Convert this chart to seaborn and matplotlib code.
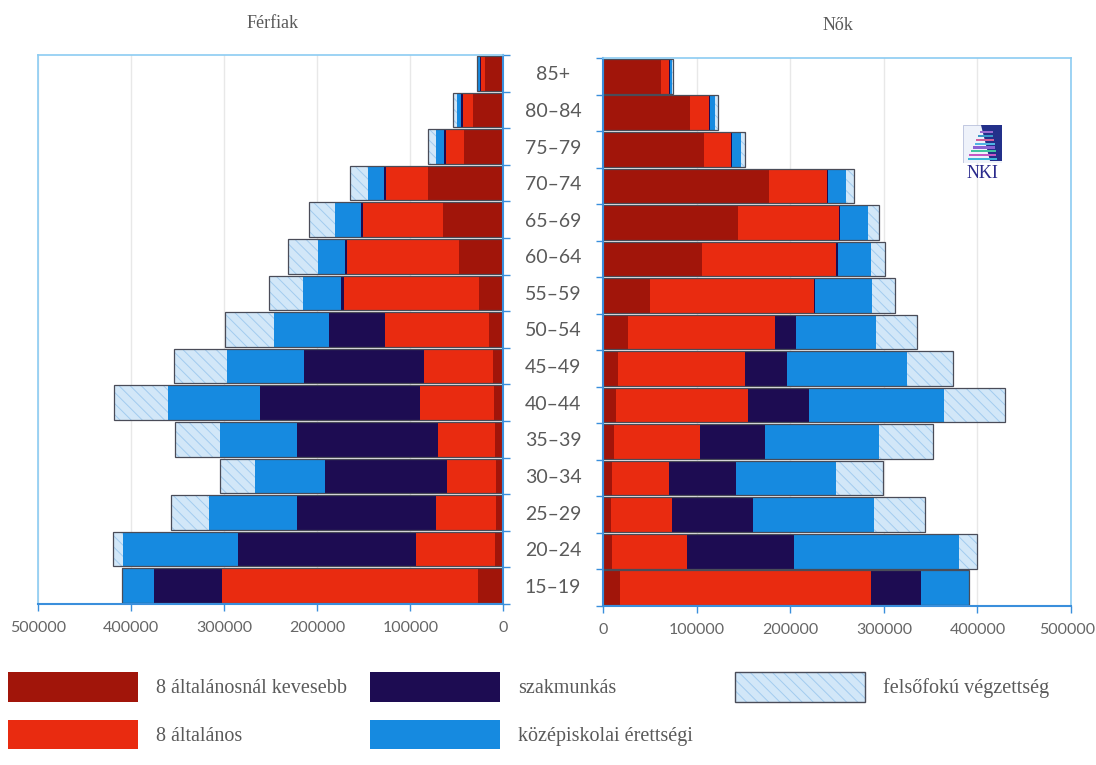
import numpy as np
import matplotlib
matplotlib.use("Agg")
import matplotlib.pyplot as plt
import matplotlib.transforms as mtransforms
import seaborn as sns
from matplotlib.patches import Patch, Polygon, Rectangle
from matplotlib.legend_handler import HandlerTuple

# ---------------- data ----------------
ages = ['85+', '80–84', '75–79', '70–74', '65–69', '60–64', '55–59', '50–54',
        '45–49', '40–44', '35–39', '30–34', '25–29', '20–24', '15–19']

categories = ['8 általánosnál kevesebb', '8 általános', 'szakmunkás',
              'középiskolai érettségi', 'felsőfokú végzettség']

men_lt8 = [20000, 33000, 42000, 81000, 64500, 48000, 26000, 16000, 11500, 10500, 9500, 8000, 8000, 9500, 27500]
men_alt8 = [4000, 11000, 20000, 45500, 86500, 120000, 145000, 111000, 74000, 79000, 61000, 52500, 64500, 84000, 274500]
men_szak = [1500, 1500, 1500, 2000, 2000, 2000, 3500, 60000, 129000, 172500, 151500, 131500, 149500, 191500, 73500]
men_eret = [1500, 4000, 9000, 17500, 28000, 29500, 41000, 60000, 82500, 98500, 83000, 75000, 94000, 124000, 34500]
men_felso = [1000, 4500, 9000, 19000, 27500, 32000, 36500, 52000, 57000, 57500, 47500, 37000, 41000, 10500, 0]

wom_lt8 = [62000, 93000, 108000, 177000, 144000, 105500, 50000, 26000, 15500, 13500, 11500, 9500, 8000, 9000, 18000]
wom_alt8 = [8000, 20500, 28500, 62000, 107500, 143000, 175000, 158000, 135500, 141000, 92000, 61000, 65500, 81000, 268500]
wom_szak = [1000, 1000, 1000, 1500, 2000, 2000, 1500, 21500, 45500, 65500, 69500, 71000, 87000, 113500, 53500]
wom_eret = [2500, 4500, 10000, 18500, 30000, 35500, 61000, 86500, 128000, 144000, 122000, 107500, 128500, 176500, 50500]
wom_felso = [1000, 3500, 3500, 8500, 11000, 15000, 24000, 43000, 49500, 65000, 57500, 49500, 54500, 19000, 0]

x_ticks = [0, 100000, 200000, 300000, 400000, 500000]

# ---------------- style ----------------
COLS = ['#a1150a', '#e92b10', '#1d0c52', '#168ae0', '#d2e7f8']
HATCH_C = '#a2cbef'
OUTLINE = '#4a4c58'
BLUE = '#3a8fdc'
LIGHT = '#8cccf2'
GRID = '#e8e8e8'
TXT = '#5a5a5a'
BAR_W = 0.95
HATCH = '\\\\\\'

plt.rcParams['hatch.linewidth'] = 0.7

W, H = 1096, 765
fig = plt.figure(figsize=(W / 100, H / 100), dpi=100)


def ax_rect(x0, x1, ytop, ybot):
    return [x0 / W, 1 - ybot / H, (x1 - x0) / W, (ybot - ytop) / H]


ax_l = fig.add_axes(ax_rect(38, 503.5, 55, 604))
ax_r = fig.add_axes(ax_rect(603.3, 1071, 58, 606))


def draw_panel(ax, layers):
    cum = np.cumsum(np.array(layers, dtype=float), axis=0)
    # total bar (hatched, top category)
    sns.barplot(x=cum[4], y=ages, orient='h', color=COLS[4], saturation=1,
                width=BAR_W, hatch=HATCH, edgecolor=HATCH_C, linewidth=0, ax=ax)
    for k in (3, 2, 1, 0):
        sns.barplot(x=cum[k], y=ages, orient='h', color=COLS[k], saturation=1,
                    width=BAR_W, linewidth=0, ax=ax)
    # outline of the whole bar
    sns.barplot(x=cum[4], y=ages, orient='h', fill=False, color=OUTLINE,
                width=BAR_W, linewidth=0.9, ax=ax)


draw_panel(ax_l, [men_lt8, men_alt8, men_szak, men_eret, men_felso])
draw_panel(ax_r, [wom_lt8, wom_alt8, wom_szak, wom_eret, wom_felso])

for ax, side in ((ax_l, 'left'), (ax_r, 'right')):
    if side == 'left':
        ax.set_xlim(500000, 0)
    else:
        ax.set_xlim(0, 500000)
    ax.set_ylim(len(ages) - 0.5, -0.5)
    ax.set_xticks(x_ticks)
    ax.set_xticklabels([str(t) for t in x_ticks], fontfamily='Lato',
                       fontsize=11.5, color='#666666')
    ax.tick_params(axis='x', direction='out', length=5, width=1, color=BLUE, pad=7)
    ax.grid(axis='x', color=GRID, lw=1)
    ax.grid(axis='y', visible=False)
    ax.set_axisbelow(True)
    ax.set_xlabel('')
    ax.set_ylabel('')
    ax.set_facecolor('white')
    ax.set_yticks(np.arange(-0.5, len(ages), 1), minor=True)

# keep the right-most tick label inside the picture
last = ax_r.get_xticklabels()[-1]
last.set_transform(last.get_transform() +
                   mtransforms.ScaledTranslation(-4 / 100, 0, fig.dpi_scale_trans))

# left panel spines & age labels
ax_l.spines['left'].set_color(LIGHT)
ax_l.spines['top'].set_color(LIGHT)
ax_l.spines['right'].set_color(BLUE)
ax_l.spines['bottom'].set_color(BLUE)
for s in ('left', 'top'):
    ax_l.spines[s].set_linewidth(1.2)
for s in ('right', 'bottom'):
    ax_l.spines[s].set_linewidth(1.5)
ax_l.set_yticks(range(len(ages)))
ax_l.set_yticklabels(ages, fontfamily='Lato', fontsize=14, color=TXT)
ax_l.tick_params(axis='y', which='major', left=False, right=False, length=0,
                 labelleft=False, labelright=True, pad=35.6)
for t in ax_l.get_yticklabels():
    t.set_ha('center')
ax_l.tick_params(axis='y', which='minor', left=False, right=True, length=5,
                 width=1, color=BLUE, direction='out')

# right panel spines
ax_r.spines['right'].set_color(LIGHT)
ax_r.spines['top'].set_color(LIGHT)
ax_r.spines['left'].set_color(BLUE)
ax_r.spines['bottom'].set_color(BLUE)
for s in ('right', 'top'):
    ax_r.spines[s].set_linewidth(1.2)
for s in ('left', 'bottom'):
    ax_r.spines[s].set_linewidth(1.5)
ax_r.set_yticks(range(len(ages)))
ax_r.tick_params(axis='y', which='major', left=False, right=False, length=0,
                 labelleft=False, labelright=False)
ax_r.tick_params(axis='y', which='minor', left=True, right=False, length=5,
                 width=1, color=BLUE, direction='out')

# titles
fig.text(273 / W, 1 - 24 / H, 'Férfiak', ha='center', va='center',
         family='Liberation Serif', fontsize=13, color=TXT)
fig.text(838 / W, 1 - 25 / H, 'Nők', ha='center', va='center',
         family='Liberation Serif', fontsize=13, color=TXT)

# NKI logo (small decoration)
lax = fig.add_axes(ax_rect(963, 1002, 125, 163))
lax.set_xlim(0, 1)
lax.set_ylim(0, 1)
lax.axis('off')
lax.add_patch(Rectangle((0, 0), 1, 1, facecolor='#eef2fa', edgecolor='#b8c0dc', lw=0.6))
lax.add_patch(Polygon([[0.45, 1], [1, 1], [1, 0.05], [0.7, 0.05]], facecolor='#23308a'))
stripe_cols = ['#3cb4d8', '#c458c4', '#3fc4a0', '#8a62d4', '#4fb4e4', '#d0609c', '#3a98c8', '#9a6ad0']
for i, c in enumerate(stripe_cols):
    y = 0.08 + i * 0.1
    x0 = 0.12 + (y - 0.08) * 0.45
    lax.add_patch(Rectangle((x0, y), 0.88 - x0 - (y * 0.15), 0.055, facecolor=c, lw=0))
fig.text(982.5 / W, 1 - 173 / H, 'NKI', ha='center', va='center',
         family='Liberation Serif', fontsize=13, color='#2a2a8c')

# legend (three columns placed individually)
def make_handle(k):
    if k == 4:
        return (Patch(facecolor=COLS[4], edgecolor=HATCH_C, hatch=HATCH, lw=0),
                Patch(facecolor='none', edgecolor=OUTLINE, lw=1.0))
    return Patch(facecolor=COLS[k], edgecolor='none', lw=0)


fs = 14.5
fs_px = fs * 100 / 72
leg_cols = [((8, 672), [0, 1]), ((370, 672), [2, 3]), ((735, 672), [4])]
for (lx, ly), ks in leg_cols:
    leg = fig.legend([make_handle(k) for k in ks], [categories[k] for k in ks],
                     loc='upper left', bbox_to_anchor=(lx / W, 1 - ly / H),
                     bbox_transform=fig.transFigure, frameon=False,
                     borderpad=0, borderaxespad=0,
                     handlelength=130 / fs_px, handleheight=38 / fs_px,
                     labelspacing=(56 - 38) / fs_px, handletextpad=18 / fs_px,
                     prop={'family': 'Liberation Serif', 'size': fs},
                     labelcolor=TXT,
                     handler_map={tuple: HandlerTuple(ndivide=1, pad=0)})

fig.savefig('out.png', dpi=100, facecolor='white')
